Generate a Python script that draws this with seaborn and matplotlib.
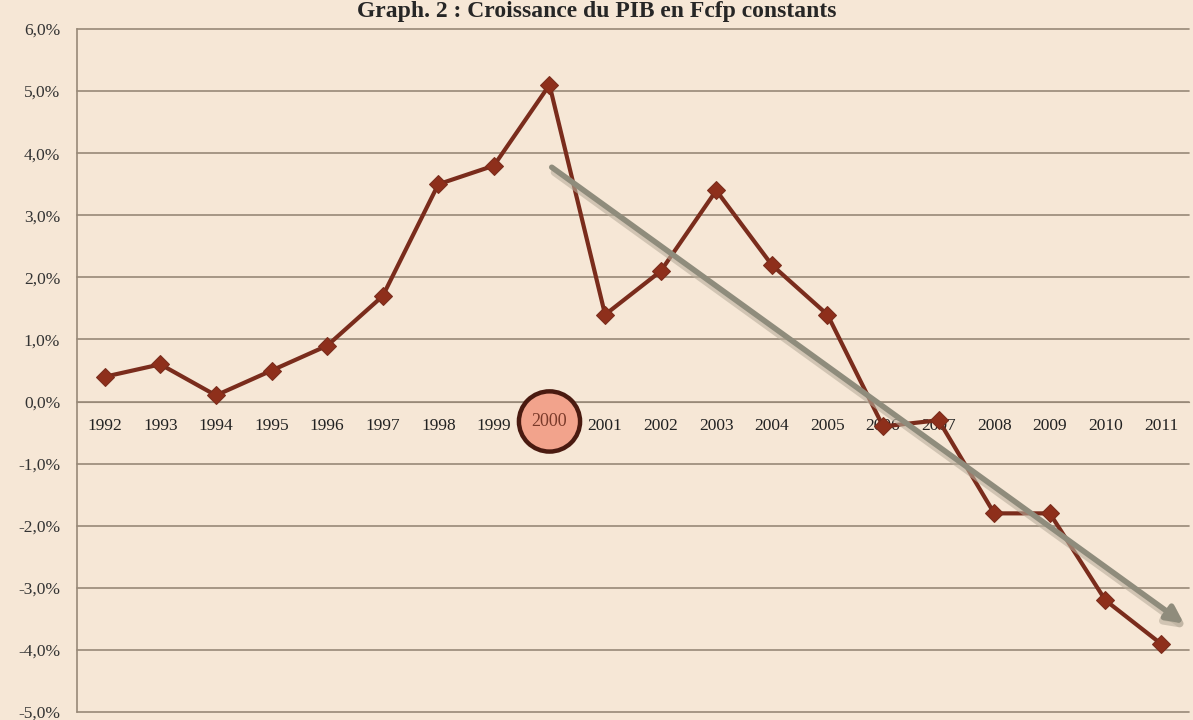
import pandas as pd
import matplotlib.pyplot as plt
import seaborn as sns
from matplotlib.patches import Ellipse

# Données
annees = [1992, 1993, 1994, 1995, 1996, 1997, 1998, 1999, 2000, 2001,
          2002, 2003, 2004, 2005, 2006, 2007, 2008, 2009, 2010, 2011]
croissance = [0.4, 0.6, 0.1, 0.5, 0.9, 1.7, 3.5, 3.8, 5.1, 1.4,
              2.1, 3.4, 2.2, 1.4, -0.4, -0.3, -1.8, -1.8, -3.2, -3.9]
yticks = [6, 5, 4, 3, 2, 1, 0, -1, -2, -3, -4, -5]
annee_marquee = 2000
titre = "Graph. 2 : Croissance du PIB en Fcfp constants"

df = pd.DataFrame({'Annee': annees, 'Croissance': croissance})

fond = '#F6E7D6'
grille = '#988978'

sns.set_style('white')
plt.rcParams['font.family'] = ['Liberation Serif', 'DejaVu Serif']

fig = plt.figure(figsize=(11.93, 7.2), dpi=100, facecolor=fond)
ax = fig.add_axes([0.0645, 0.011, 0.932, 0.9487])
ax.set_facecolor(fond)

# Grille horizontale
for v in yticks:
    ax.axhline(v, color=grille, lw=1.2, zorder=1, clip_on=False)

# Courbe
sns.lineplot(data=df, x='Annee', y='Croissance', color='#7A2C1C', lw=3,
             marker='D', markersize=9.5, markerfacecolor='#8E2F1B',
             markeredgecolor='#7A2C1C', ax=ax, zorder=3)

# Flèche de tendance (ombre + flèche)
ax.annotate('', xy=(2011.5, -3.68), xytext=(2000.05, 3.72),
            arrowprops=dict(arrowstyle='-|>,head_length=1.1,head_width=0.55',
                            color='#B9AE9C', lw=5.5, alpha=0.6), zorder=4)
ax.annotate('', xy=(2011.45, -3.6), xytext=(2000, 3.8),
            arrowprops=dict(arrowstyle='-|>,head_length=1.0,head_width=0.5',
                            color='#8F8C7C', lw=4), zorder=5)

ax.set_xlim(1991.5, 2011.5)
ax.set_ylim(-5, 6)
ax.set_yticks(yticks)
ax.set_yticklabels([f"{v:.1f}%".replace('.', ',') for v in yticks])
ax.set_xticks(annees)
ax.set_xticklabels([str(a) if a != annee_marquee else '' for a in annees])
ax.set_xticks([a + 0.5 for a in annees[:-1]] + [1991.5], minor=True)

for s in ['top', 'right']:
    ax.spines[s].set_visible(False)
ax.spines['bottom'].set_position(('data', 0))
ax.spines['bottom'].set_color(grille)
ax.spines['left'].set_color(grille)
ax.spines['left'].set_linewidth(1.2)
ax.tick_params(axis='y', length=7, width=1.2, color=grille, labelsize=12.5,
               labelcolor='#333333', pad=5)
ax.tick_params(axis='x', which='major', length=0, labelsize=12.5,
               labelcolor='#222222', pad=12)
ax.tick_params(axis='x', which='minor', length=5, color=grille, direction='in')
ax.set_xlabel('')
ax.set_ylabel('')

# Cercle autour de l'année 2000
cercle = Ellipse((annee_marquee, -0.32), 1.1, 0.97, facecolor='#F2A38C',
                 edgecolor='#4A1A10', lw=3.2, zorder=6, clip_on=False)
ax.add_patch(cercle)
ax.text(annee_marquee, -0.32, str(annee_marquee), ha='center', va='center',
        fontsize=13, color='#7A3A2A', zorder=7)

fig.text(0.5, 0.999, titre, ha='center', va='top', fontsize=17,
         fontweight='bold', family='Liberation Serif')

fig.savefig('out.png', dpi=100, facecolor=fond)
